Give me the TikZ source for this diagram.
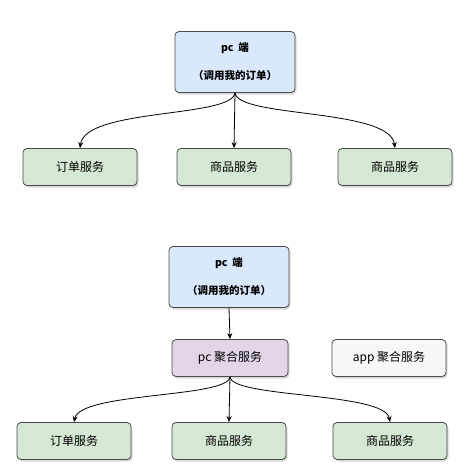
\documentclass[tikz,border=0pt]{standalone}
\usepackage{fontspec}
\setmainfont{Noto Sans CJK SC}
\usetikzlibrary{shadows,arrows.meta}
\definecolor{bluef}{HTML}{DAE8FC}
\definecolor{greenf}{HTML}{D5E8D4}
\definecolor{purplef}{HTML}{E1D5E7}
\definecolor{grayf}{HTML}{F7F7F9}
\definecolor{edge}{HTML}{4A4A4A}
\begin{document}
\begin{tikzpicture}[x=1pt,y=-1pt,
  box/.style={draw=edge, line width=0.8pt, rounded corners=4pt, inner sep=0pt,
    drop shadow={shadow xshift=1.5pt, shadow yshift=-2pt, opacity=0.3},
    font=\fontsize{12}{14}\selectfont},
  pcbox/.style={box, fill=bluef, minimum width=120pt, minimum height=61pt, align=center, font=\bfseries\fontsize{10.5}{28}\selectfont},
  svc/.style={box, fill=greenf, minimum width=114pt, minimum height=37pt},
  arr/.style={-{Stealth[length=6pt,width=5pt]}, line width=0.8pt, black}]
\fill[white] (0,0) rectangle (472,474);
\useasboundingbox (0,0) rectangle (472,474);

\node[pcbox] (pc1) at (235,62) {pc\ \ 端\\（调用我的订单）};
\node[svc] (a1) at (80,167) {订单服务};
\node[svc] (b1) at (234,167) {商品服务};
\node[svc] (c1) at (395,167) {商品服务};

\draw[arr] (pc1.south) .. controls (232,118) and (85,108) .. (a1.north);
\draw[arr] (pc1.south) -- (b1.north);
\draw[arr] (pc1.south) .. controls (238,118) and (390,108) .. (c1.north);

\node[pcbox] (pc2) at (229,277) {pc\ \ 端\\（调用我的订单）};
\node[box, fill=purplef, minimum width=116pt, minimum height=37pt] (agg) at (230,358) {pc 聚合服务};
\node[box, fill=grayf, minimum width=114pt, minimum height=37pt] (app) at (389,358) {app 聚合服务};
\node[svc] (a2) at (74,441) {订单服务};
\node[svc] (b2) at (229,441) {商品服务};
\node[svc] (c2) at (390,441) {商品服务};

\draw[arr] (pc2.south) -- (agg.north);
\draw[arr] (agg.south) .. controls (228,398) and (80,392) .. (a2.north);
\draw[arr] (agg.south) -- (b2.north);
\draw[arr] (agg.south) .. controls (232,398) and (385,392) .. (c2.north);
\end{tikzpicture}
\end{document}
